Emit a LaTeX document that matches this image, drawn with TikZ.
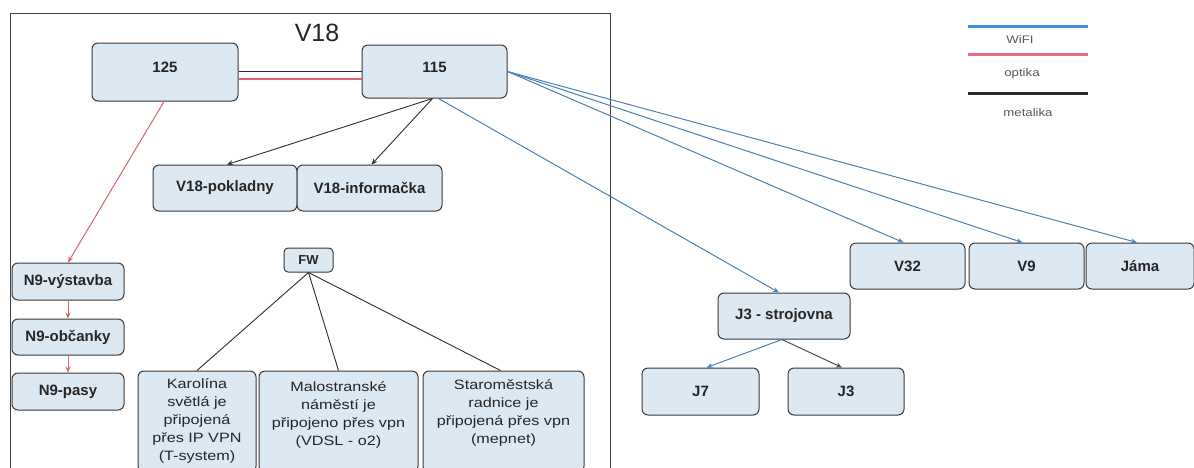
\documentclass[tikz,border=0pt]{standalone}
\usepackage{fontspec}
\setmainfont{Liberation Sans}
\newfontfamily\widefont[FakeStretch=1.2]{Liberation Sans}
\usetikzlibrary{arrows.meta,calc}
\definecolor{boxfill}{HTML}{DCE8F2}
\definecolor{boxline}{HTML}{3A3A3A}
\definecolor{wifi}{HTML}{4A82B8}
\definecolor{wifileg}{HTML}{3F8FD6}
\definecolor{optika}{HTML}{E0606E}
\definecolor{optleg}{HTML}{E86A82}
\definecolor{metal}{HTML}{2E2E2E}
\begin{document}
\begin{tikzpicture}[x=1pt,y=-1pt,
  box/.style={draw=boxline, fill=boxfill, rounded corners=6pt, line width=1pt, inner sep=0pt,
    text=black!85, font=\bfseries\fontsize{15}{18}\selectfont},
  wide/.style={align=center, inner sep=0pt, text=black!85, font=\widefont\fontsize{13.5}{18}\selectfont},
  tip/.style={-{Stealth[length=6pt,width=5pt]}},
  wline/.style={draw=wifi, line width=1pt},
  oline/.style={draw=optika, line width=1pt},
  mline/.style={draw=metal, line width=0.9pt},
  legtext/.style={text=black!65, font=\widefont\fontsize{11}{13}\selectfont, inner sep=0pt}
]
\useasboundingbox (0,0) rectangle (1194,467);
\clip (0,0) rectangle (1194,467);
\fill[white] (0,0) rectangle (1194,467);

% frame
\draw[draw=black!75, line width=1pt] (10,13) rectangle (610,490);
\node[inner sep=0pt, font=\fontsize{25}{28}\selectfont, text=black!85] (title) at (317,33) {V18};

% top nodes
\node[box, minimum width=146, minimum height=58] (n125) at (165,72) {\raisebox{9pt}{125}};
\node[box, minimum width=145, minimum height=53] (n115) at (434.5,71.5) {\raisebox{8pt}{115}};
\node[box, minimum width=144, minimum height=46] (pok) at (225,188) {V18-pokladny};
\node[box, minimum width=145, minimum height=46] (inf) at (369.5,188) {V18-informačka};

% N9
\node[box, minimum width=112, minimum height=37] (nvy) at (68,281.5) {N9-výstavba};
\node[box, minimum width=112, minimum height=36] (nob) at (68,337) {N9-občanky};
\node[box, minimum width=112, minimum height=37] (npa) at (68,391.5) {N9-pasy};

% FW and branches
\node[box, rounded corners=4pt, minimum width=49, minimum height=24, font=\bfseries\fontsize{13}{15}\selectfont] (fw) at (308.5,260) {FW};
\node[box, minimum width=118, minimum height=101] (kar) at (197,421.5) {};
\node[box, minimum width=159, minimum height=101] (mal) at (338.5,421.5) {};
\node[box, minimum width=161, minimum height=101] (sta) at (503.5,421.5) {};
\node[wide] (kart) at (197,421) {Karolína\\světlá je\\připojená\\přes IP VPN\\(T-system)};
\node[wide] (malt) at (338.5,415) {Malostranské\\náměstí je\\připojeno přes vpn\\(VDSL - o2)};
\node[wide] (stat) at (503.5,413) {Staroměstská\\radnice je\\připojená přes vpn\\(mepnet)};

% right side nodes
\node[box, minimum width=132, minimum height=46] (j3s) at (784,316) {J3 - strojovna};
\node[box, minimum width=117, minimum height=47] (j7) at (700.5,391.5) {J7};
\node[box, minimum width=116, minimum height=47] (j3) at (846,391.5) {J3};
\node[box, minimum width=115, minimum height=46] (v32) at (907.5,266) {V32};
\node[box, minimum width=115, minimum height=46] (v9) at (1026.5,266) {V9};
\node[box, minimum width=108, minimum height=46] (jama) at (1140,266) {Jáma};

% 125 -- 115 links
\coordinate (b1) at ([yshift=1pt]n125.east);
\coordinate (b2) at ([yshift=-7pt]n125.east);
\draw[mline] (b1) -- (b1 -| n115.west);
\draw[oline, line width=1.3pt] (b2) -- (b2 -| n115.west);

% optika
\draw[oline, tip] ([xshift=-1pt]n125.south) -- (nvy.north);
\draw[oline, tip] (nvy.south) -- (nob.north);
\draw[oline, tip] (nob.south) -- (npa.north);

% metalika from 115
\draw[mline, tip] ([xshift=-2pt]n115.south) -- ([xshift=2pt]pok.north);
\draw[mline, tip] ([xshift=-2pt]n115.south) -- ([xshift=2pt]inf.north);

% wifi from 115
\draw[wline, tip] ([xshift=4pt]n115.south) -- ([xshift=-5pt]j3s.north);
\draw[wline, tip] (n115.east) -- ([xshift=-4pt]v32.north);
\draw[wline, tip] (n115.east) -- ([xshift=-4pt]v9.north);
\draw[wline, tip] (n115.east) -- ([xshift=-3pt]jama.north);

% J3 - strojovna children
\draw[wline, tip] ([xshift=-2pt]j3s.south) -- ([xshift=6pt]j7.north);
\draw[draw=black!70, line width=1pt, tip] ([xshift=-2pt]j3s.south) -- ([xshift=-4pt]j3.north);

% FW links
\draw[mline] (fw.south) -- (kar.north);
\draw[mline] (fw.south) -- (mal.north);
\draw[mline] (fw.south) -- ([xshift=-3pt]sta.north);

% legend
\draw[draw=wifileg, line width=3pt] (968,26) -- (1088,26);
\node[legtext] (lwifi) at (1020,40) {WiFI};
\draw[draw=optleg, line width=3pt] (968,54) -- (1088,54);
\node[legtext] (lopt) at (1022,74) {optika};
\draw[draw=metal, line width=3pt] (968,93) -- (1088,93);
\node[legtext] (lmet) at (1028,113) {metalika};
\end{tikzpicture}
\end{document}
